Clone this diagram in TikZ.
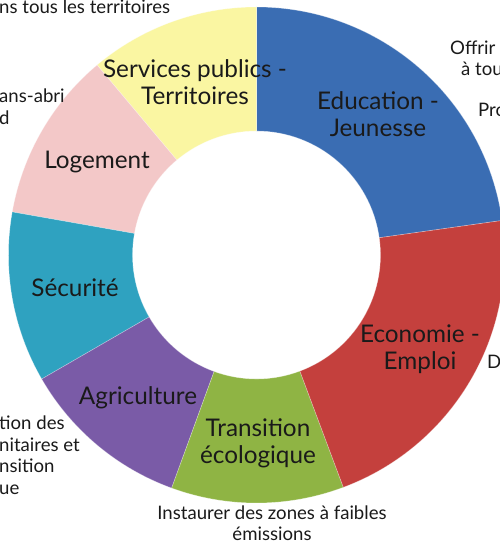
\documentclass[tikz,border=0pt]{standalone}
\usepackage{fontspec}
\setmainfont{Lato}
\usetikzlibrary{calc}
\definecolor{cEdu}{HTML}{3A6DB3}
\definecolor{cEco}{HTML}{C4403D}
\definecolor{cTra}{HTML}{8FB444}
\definecolor{cAgr}{HTML}{7A5BA7}
\definecolor{cSec}{HTML}{2FA2C0}
\definecolor{cLog}{HTML}{F3C8C8}
\definecolor{cSer}{HTML}{FAF6A2}
\definecolor{txt}{HTML}{1A1A1A}
\tikzset{
  seglabel/.style={align=center,font=\fontsize{24.3}{27}\selectfont,text=txt,inner sep=0pt},
  outlabel/.style={align=left,font=\fontsize{18.6}{21.5}\selectfont,text=txt,inner sep=0pt},
  segedge/.style={draw=white,draw opacity=0.35,line width=0.6pt}
}
\newcommand{\seg}[3]{%
  \fill[#1,segedge] ($(C)+(#2:248)$) arc[start angle=#2,end angle=#3,radius=248]
    -- ($(C)+(#3:124)$) arc[start angle=#3,end angle=#2,radius=124] -- cycle;}
\begin{document}
\begin{tikzpicture}[x=1pt,y=1pt]
\useasboundingbox (0,0) rectangle (500,542);
\clip (0,0) rectangle (500,542);
\fill[white] (0,0) rectangle (500,542);
\coordinate (C) at (256.5,287);
\seg{cEdu}{8}{90}
\seg{cSer}{90}{130}
\seg{cLog}{130}{170}
\seg{cSec}{170}{210}
\seg{cAgr}{210}{250}
\seg{cTra}{250}{290.5}
\seg{cEco}{290.5}{368}
% labels
\node[seglabel] (ser) at (195,460) {Services publics -\\Territoires};
\node[seglabel] (edu) at (378,428) {Education -\\Jeunesse};
\node[seglabel] (log) at (97,380) {Logement};
\node[seglabel] (sec) at (75,254) {Sécurité};
\node[seglabel] (agr) at (138,144) {Agriculture};
\node[seglabel] (tra) at (258,99) {Transition\\écologique};
\node[seglabel] (eco) at (420,193) {Economie -\\Emploi};
% outer fragments
\node[outlabel,anchor=west] (o1) at (-1,535) {ns tous les territoires};
\node[outlabel,anchor=north west] (o2) at (-1,453) {ans-abri\\d};
\node[outlabel,anchor=west] (o3a) at (450,494) {Offrir};
\node[outlabel,anchor=west] (o3b) at (461,473) {à tou};
\node[outlabel,anchor=west] (o4) at (478,432) {Pro};
\node[outlabel,anchor=west] (o5) at (487,180) {D};
\node[outlabel,anchor=north west] (o6) at (-1,126) {tion des\\nitaires et\\nsition\\ue};
\node[outlabel,align=center] (o7) at (272,19) {Instaurer des zones à faibles\\émissions};
\end{tikzpicture}
\end{document}
